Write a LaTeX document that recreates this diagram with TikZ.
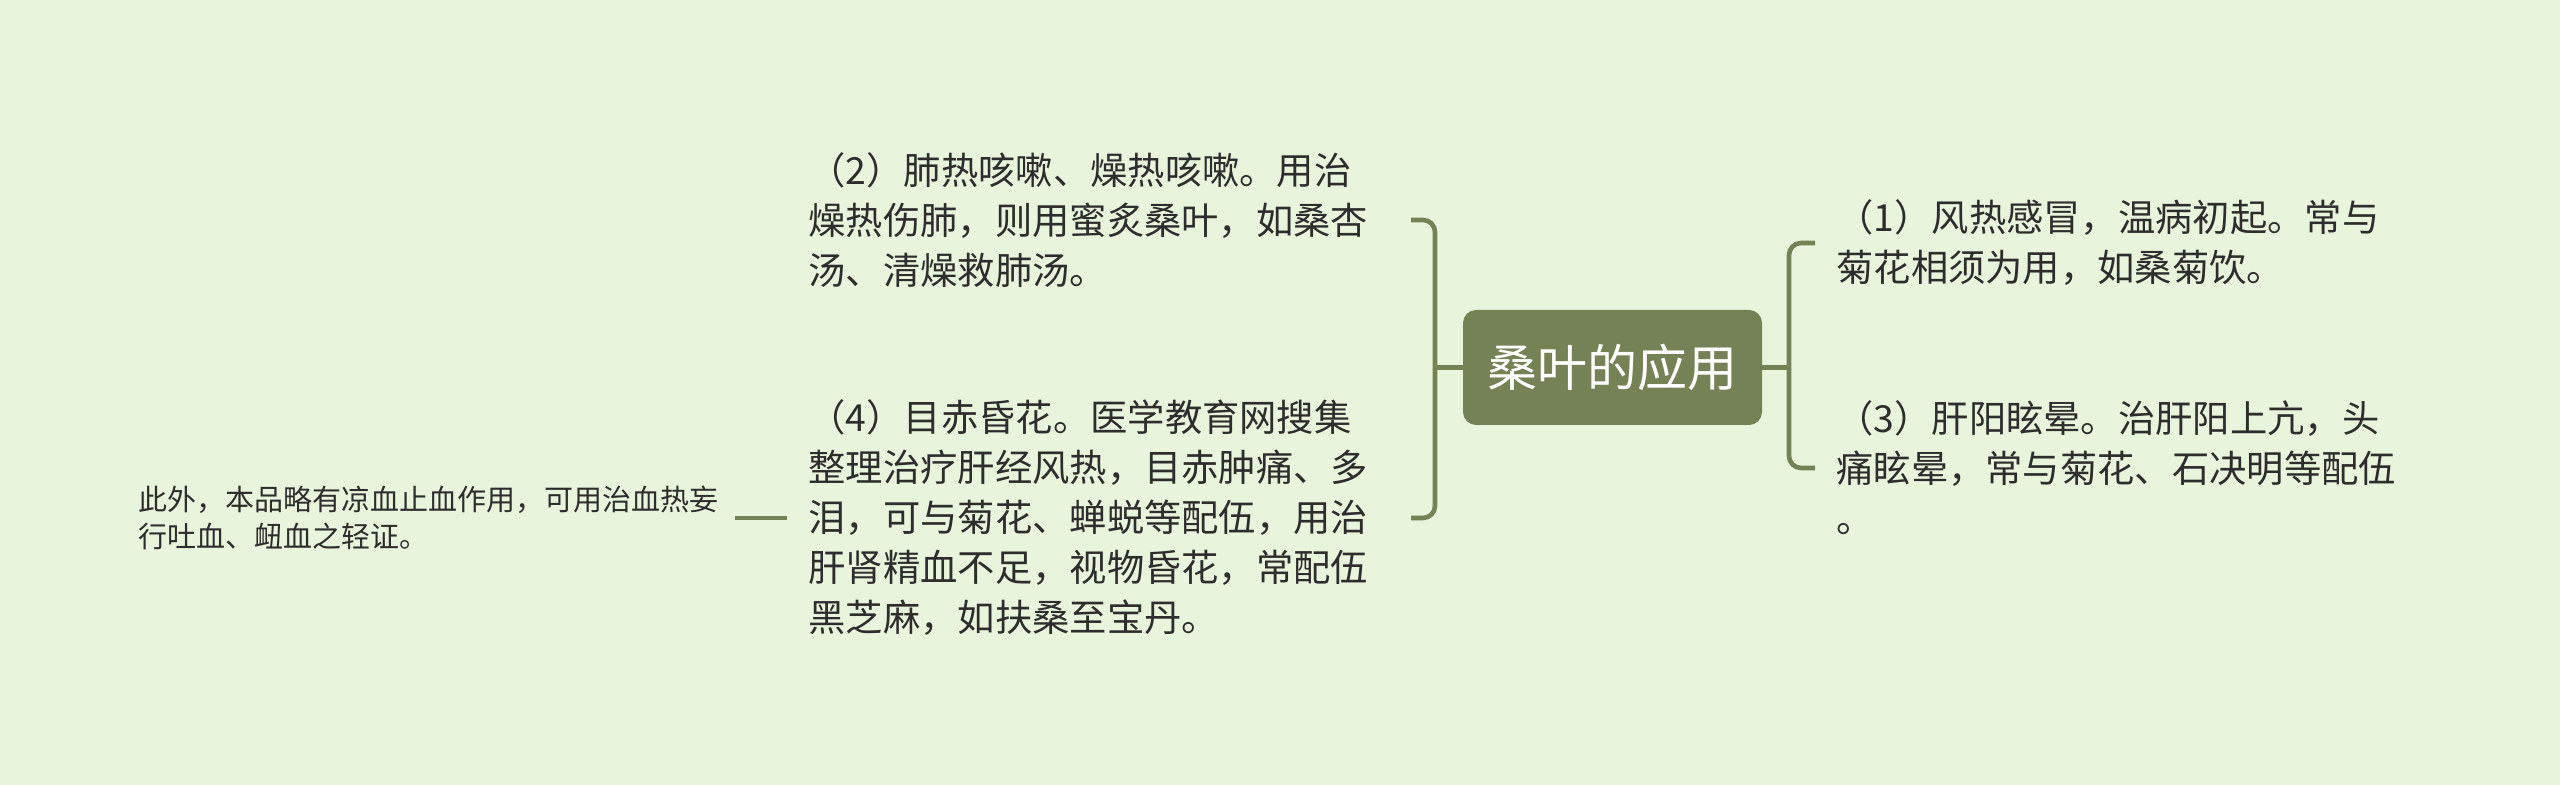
\documentclass[tikz,border=0pt]{standalone}
\usepackage{fontspec}
\setmainfont{Noto Sans CJK SC}
\usetikzlibrary{positioning}

\definecolor{mapbg}{RGB}{232,245,220}
\definecolor{branch}{RGB}{116,130,85}
\definecolor{ink}{RGB}{45,45,45}

\begin{document}
\begin{tikzpicture}[x=0.5pt,y=-0.5pt,
  topic/.style={fill=branch, rounded corners=6.5pt, text=white,
    minimum width=149.5pt, minimum height=57.5pt, inner sep=0pt,
    font=\fontsize{25pt}{30pt}\selectfont},
  leaf/.style={align=left, text=ink, inner xsep=10.5pt, inner ysep=0pt,
    font=\fontsize{18.65pt}{25pt}\selectfont},
  note/.style={align=left, text=ink, inner xsep=8pt, inner ysep=0pt,
    font=\fontsize{14.5pt}{18.5pt}\selectfont},
  link/.style={draw=branch, line width=2.3pt, rounded corners=6pt}
  ]
  \fill[mapbg] (0,0) rectangle (2560,785);
  \useasboundingbox (0,0) rectangle (2560,785);

  \node[topic] (root) at (1612.5,367.5) {桑叶的应用};

  % right side
  \node[leaf, anchor=west] (n1) at (1815,243)
    {（1）风热感冒，温病初起。常与\\菊花相须为用，如桑菊饮。};
  \node[leaf, anchor=west] (n3) at (1815,468)
    {（3）肝阳眩晕。治肝阳上亢，头\\痛眩晕，常与菊花、石决明等配伍\\。};

  % left side
  \node[leaf, text width=290.5pt, anchor=east] (n2) at (1411,220)
    {（2）肺热咳嗽、燥热咳嗽。用治\\燥热伤肺，则用蜜炙桑叶，如桑杏\\汤、清燥救肺汤。};
  \node[leaf, text width=290.5pt, anchor=east] (n4) at (1411,518)
    {（4）目赤昏花。医学教育网搜集\\整理治疗肝经风热，目赤肿痛、多\\泪，可与菊花、蝉蜕等配伍，用治\\肝肾精血不足，视物昏花，常配伍\\黑芝麻，如扶桑至宝丹。};
  \node[note, left=26pt of n4] (n5)
    {此外，本品略有凉血止血作用，可用治血热妄\\行吐血、衄血之轻证。};

  \coordinate (lj) at (1435,367.5);
  \coordinate (rj) at (1789,367.5);

  \draw[link] (root.west) -- (lj);
  \draw[link] (n2.east) -| (lj) |- (n4.east);
  \draw[link] (root.east) -- (rj);
  \draw[link] (n1.west) -| (rj) |- (n3.west);
  \draw[link] (n4.west) -- (n5.east);
\end{tikzpicture}
\end{document}
